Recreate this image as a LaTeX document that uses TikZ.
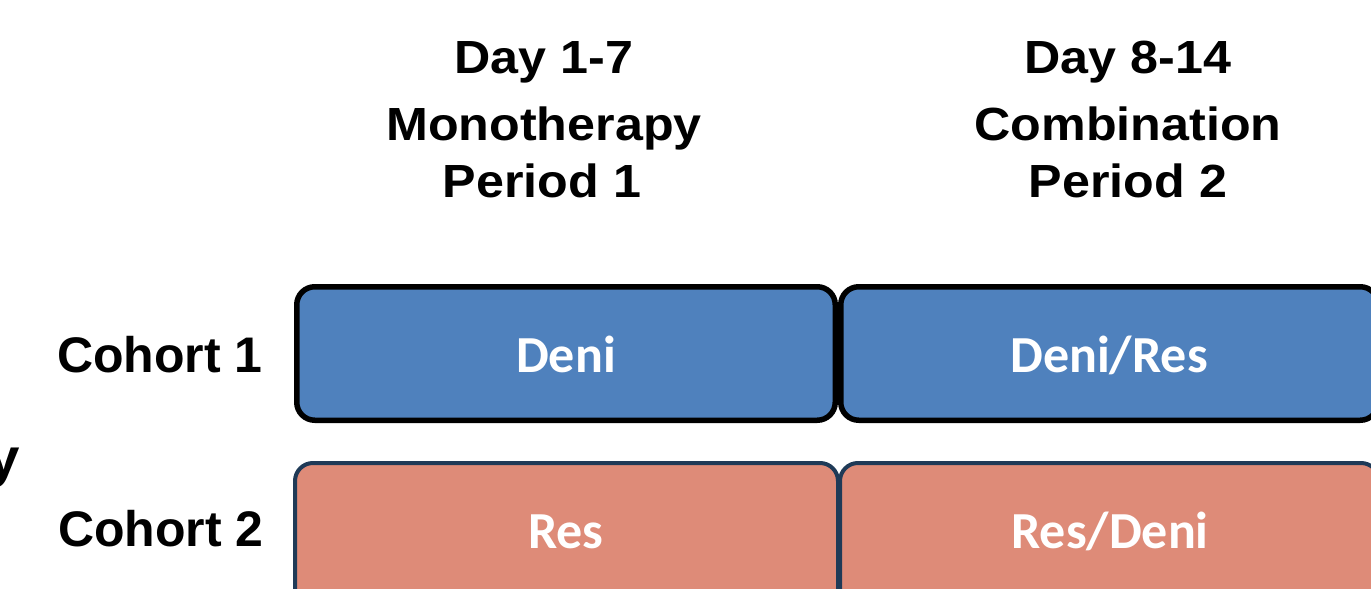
\documentclass[tikz,border=0pt]{standalone}
\usepackage{fontspec}
\setmainfont{Liberation Sans}
\newfontfamily\hdrfont[FakeStretch=1.08]{Liberation Sans}
\newfontfamily\boxfont{Carlito}
\definecolor{boxblue}{HTML}{4F81BD}
\definecolor{boxred}{HTML}{DE8B78}
\definecolor{rednavy}{HTML}{1F3A57}
\begin{document}
\begin{tikzpicture}[x=1pt,y=-1pt,
  hdr/.style={anchor=base, font=\hdrfont\bfseries\fontsize{46.5}{46.5}\selectfont, inner sep=0pt},
  cohort/.style={anchor=base, font=\bfseries\fontsize{50}{50}\selectfont, inner sep=0pt},
  bluebox/.style={draw=black, line width=5.5pt, fill=boxblue, rounded corners=18pt, anchor=north west, inner sep=0pt},
  redbox/.style={draw=rednavy, line width=4pt, fill=boxred, rounded corners=18pt, anchor=north west, inner sep=0pt},
  boxtext/.style={anchor=base, font=\boxfont\bfseries\fontsize{52}{52}\selectfont, text=white, inner sep=0pt}]
\useasboundingbox (0,0) rectangle (1371,589);
% headers
\node[hdr] (h1a) at (544,73) {Day 1-7};
\node[hdr] (h1b) at (544,140) {Monotherapy};
\node[hdr] (h1c) at (542,197) {Period 1};
\node[hdr] (h2a) at (1128,73) {Day 8-14};
\node[hdr] (h2b) at (1128,140) {Combination};
\node[hdr] (h2c) at (1128,197) {Period 2};
% boxes
\node[bluebox, minimum width=538.5pt, minimum height=133.5pt] (b1) at (294,284) {};
\node[bluebox, minimum width=537.5pt, minimum height=133.5pt] (b2) at (838,284) {};
\node[redbox, minimum width=543pt, minimum height=145pt] (r1) at (293,461) {};
\node[redbox, minimum width=539pt, minimum height=145pt] (r2) at (838,461) {};
% box texts
\node[boxtext] (t1) at (566,372) {Deni};
\node[boxtext] (t2) at (1109,372) {Deni/Res};
\node[boxtext] (t3) at (566,548) {Res};
\node[boxtext] (t4) at (1110,548) {Res/Deni};
% cohort labels
\node[cohort] (c1) at (160,372) {Cohort 1};
\node[cohort] (c2) at (161,546) {Cohort 2};
% cut-off fragment at left edge
\node[anchor=base east, font=\hdrfont\bfseries\fontsize{54}{54}\selectfont, inner sep=0pt] (frag) at (20,476) {y};
\end{tikzpicture}
\end{document}
